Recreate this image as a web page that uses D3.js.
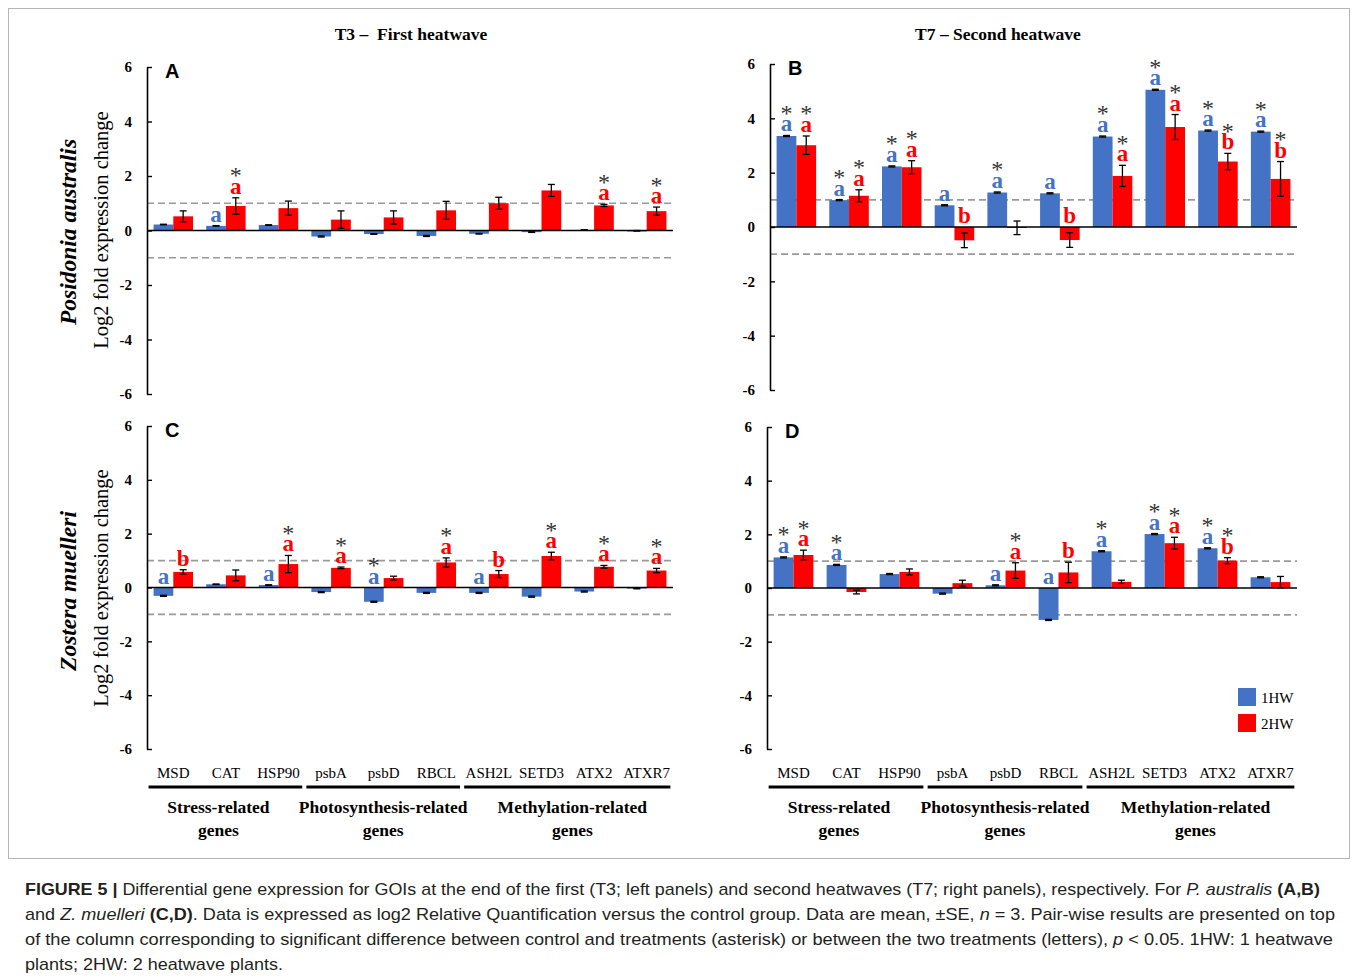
<!DOCTYPE html>
<html>
<head>
<meta charset="utf-8">
<script src="https://cdn.jsdelivr.net/npm/d3@7"></script>
<style>
  body { margin: 0; background: #fff; }
  svg { display: block; }
</style>
</head>
<body>
<svg id="chart" width="1357" height="980"></svg>
<script>
// ---------------- DATA ----------------
const categories = ["MSD", "CAT", "HSP90", "psbA", "psbD", "RBCL", "ASH2L", "SETD3", "ATX2", "ATXR7"];
const seriesNames = ["1HW", "2HW"];
const yTicks = [-6, -4, -2, 0, 2, 4, 6];
const thresholds = [1, -1];

const groupNames = [["Stress-related", "genes"], ["Photosynthesis-related", "genes"], ["Methylation-related", "genes"]];
const groupFirst = ["MSD", "psbA", "ASH2L"];
const groupLast = ["HSP90", "RBCL", "ATXR7"];

// Panel A: P. australis, T3
const A_1HW = [0.22, 0.17, 0.20, -0.22, -0.13, -0.20, -0.12, -0.06, 0.02, -0.01];
const A_1HW_se = [0.01, 0.01, 0.01, 0.02, 0.01, 0.02, 0.01, 0.01, 0.01, 0.01];
const A_2HW = [0.52, 0.90, 0.82, 0.40, 0.48, 0.74, 1.00, 1.47, 0.92, 0.71];
const A_2HW_se = [0.20, 0.30, 0.26, 0.32, 0.24, 0.33, 0.22, 0.22, 0.04, 0.15];
const A_1HW_sig = ["", "a", "", "", "", "", "", "", "", ""];
const A_2HW_sig = ["", "*a", "", "", "", "", "", "", "*a", "*a"];

// Panel B: P. australis, T7
const B_1HW = [3.35, 0.99, 2.23, 0.80, 1.27, 1.24, 3.33, 5.05, 3.55, 3.51];
const B_1HW_se = [0.02, 0.02, 0.02, 0.02, 0.02, 0.02, 0.02, 0.02, 0.02, 0.02];
const B_2HW = [3.01, 1.15, 2.20, -0.49, -0.03, -0.48, 1.88, 3.68, 2.41, 1.77];
const B_2HW_se = [0.34, 0.22, 0.24, 0.27, 0.25, 0.27, 0.39, 0.46, 0.30, 0.64];
const B_1HW_sig = ["*a", "*a", "*a", "a", "*a", "a", "*a", "*a", "*a", "*a"];
const B_2HW_sig = ["*a", "*a", "*a", "b", "", "b", "*a", "*a", "*b", "*b"];

// Panel C: Z. muelleri, T3
const C_1HW = [-0.31, 0.12, 0.09, -0.17, -0.53, -0.20, -0.20, -0.34, -0.15, -0.04];
const C_1HW_se = [0.02, 0.01, 0.01, 0.02, 0.02, 0.02, 0.02, 0.02, 0.02, 0.01];
const C_2HW = [0.58, 0.45, 0.87, 0.73, 0.35, 0.93, 0.50, 1.17, 0.77, 0.63];
const C_2HW_se = [0.08, 0.20, 0.32, 0.03, 0.07, 0.17, 0.13, 0.14, 0.05, 0.08];
const C_1HW_sig = ["a", "", "a", "", "*a", "", "a", "", "", ""];
const C_2HW_sig = ["b", "", "*a", "*a", "", "*a", "b", "*a", "*a", "*a"];

// Panel D: Z. muelleri, T7
const D_1HW = [1.14, 0.86, 0.52, -0.21, 0.10, -1.19, 1.37, 2.01, 1.48, 0.40];
const D_1HW_se = [0.02, 0.02, 0.02, 0.02, 0.02, 0.02, 0.02, 0.02, 0.02, 0.02];
const D_2HW = [1.23, -0.15, 0.60, 0.18, 0.65, 0.58, 0.23, 1.67, 1.02, 0.22];
const D_2HW_se = [0.18, 0.07, 0.11, 0.11, 0.29, 0.38, 0.06, 0.22, 0.11, 0.21];
const D_1HW_sig = ["*a", "*a", "", "", "a", "a", "*a", "*a", "*a", ""];
const D_2HW_sig = ["*a", "", "", "", "*a", "b", "", "*a", "*b", ""];

// ---------------- STYLE / LAYOUT ----------------
const BLUE = "#4472C4", RED = "#FF0000";
const SERIF = "'Liberation Serif', 'Times New Roman', serif";
const SANS = "'Liberation Sans', Arial, sans-serif";
const groupLabelShift = [-7, 0, 5];

const svg = d3.select("#chart");

svg.append("rect").attr("x", 8.5).attr("y", 8.5).attr("width", 1341).attr("height", 850)
  .attr("fill", "none").attr("stroke", "#b5b5b5").attr("stroke-width", 1);

const panels = [
  { letter: "A", x0: 147, x1: 673, yTop: 67, yBot: 394, v1: A_1HW, s1: A_1HW_se, v2: A_2HW, s2: A_2HW_se, g1: A_1HW_sig, g2: A_2HW_sig, cats: false },
  { letter: "B", x0: 770, x1: 1297, yTop: 64, yBot: 390, v1: B_1HW, s1: B_1HW_se, v2: B_2HW, s2: B_2HW_se, g1: B_1HW_sig, g2: B_2HW_sig, cats: false },
  { letter: "C", x0: 147, x1: 673, yTop: 426, yBot: 749, v1: C_1HW, s1: C_1HW_se, v2: C_2HW, s2: C_2HW_se, g1: C_1HW_sig, g2: C_2HW_sig, cats: true },
  { letter: "D", x0: 767, x1: 1297, yTop: 427, yBot: 749, v1: D_1HW, s1: D_1HW_se, v2: D_2HW, s2: D_2HW_se, g1: D_1HW_sig, g2: D_2HW_sig, cats: true }
];

panels.forEach(p => {
  const g = svg.append("g");
  const x = d3.scaleBand().domain(categories).range([p.x0, p.x1]).paddingInner(0.25).paddingOuter(0.125);
  const xs = d3.scaleBand().domain(seriesNames).range([0, x.bandwidth()]);
  const y = d3.scaleLinear().domain([-6, 6]).range([p.yBot, p.yTop]);

  // threshold dashed lines
  g.selectAll(".thr").data(thresholds).join("line")
    .attr("x1", p.x0).attr("x2", p.x1).attr("y1", d => y(d)).attr("y2", d => y(d))
    .attr("stroke", "#9a9a9a").attr("stroke-width", 1.6).attr("stroke-dasharray", "7,4");

  const series = [
    { name: "1HW", vals: p.v1, se: p.s1, sig: p.g1, color: BLUE },
    { name: "2HW", vals: p.v2, se: p.s2, sig: p.g2, color: RED }
  ];

  series.forEach(s => {
    const data = categories.map((c, i) => ({ c, v: s.vals[i], se: s.se[i], sig: s.sig[i] }));
    g.selectAll(null).data(data).join("rect")
      .attr("x", d => x(d.c) + xs(s.name))
      .attr("width", xs.bandwidth())
      .attr("y", d => y(Math.max(0, d.v)))
      .attr("height", d => Math.max(1, Math.abs(y(d.v) - y(0))))
      .attr("fill", s.color);
  });

  // zero line
  g.append("line").attr("x1", p.x0).attr("x2", p.x1).attr("y1", y(0)).attr("y2", y(0))
    .attr("stroke", "#000").attr("stroke-width", 1.6);

  series.forEach(s => {
    const data = categories.map((c, i) => ({ c, v: s.vals[i], se: s.se[i], sig: s.sig[i] }));
    const cx = d => x(d.c) + xs(s.name) + xs.bandwidth() / 2;
    const eg = g.selectAll(null).data(data).join("g");
    eg.append("line").attr("x1", cx).attr("x2", cx)
      .attr("y1", d => y(d.v + d.se)).attr("y2", d => y(d.v - d.se))
      .attr("stroke", "#000").attr("stroke-width", 1.3);
    eg.append("line").attr("x1", d => cx(d) - 3.5).attr("x2", d => cx(d) + 3.5)
      .attr("y1", d => y(d.v + d.se)).attr("y2", d => y(d.v + d.se))
      .attr("stroke", "#000").attr("stroke-width", 1.3);
    eg.append("line").attr("x1", d => cx(d) - 3.5).attr("x2", d => cx(d) + 3.5)
      .attr("y1", d => y(d.v - d.se)).attr("y2", d => y(d.v - d.se))
      .attr("stroke", "#000").attr("stroke-width", 1.3);

    // significance annotation: asterisk stacked over letter, one text element each
    const lab = data.filter(d => d.sig !== "");
    const base = d => y(Math.max(0, d.v + d.se)) - 4;
    const st = g.selectAll(null).data(lab).join("text")
      .attr("text-anchor", "middle")
      .attr("font-family", SERIF);
    st.filter(d => d.sig.includes("*")).append("tspan")
      .attr("x", cx).attr("y", d => base(d) - 10.5)
      .attr("font-size", 24).attr("fill", "#333")
      .text("*");
    st.append("tspan")
      .attr("x", cx).attr("y", base)
      .attr("font-weight", "bold").attr("font-size", 23)
      .attr("fill", s.color)
      .text(d => d.sig.replace("*", ""));
  });

  // y axis
  const axis = d3.axisLeft(y).tickValues(yTicks).tickSize(-5).tickSizeOuter(0).tickPadding(15)
    .tickFormat(d => String(d));
  const ag = g.append("g").attr("transform", `translate(${p.x0},0)`).call(axis);
  ag.select(".domain").attr("stroke", "#000").attr("stroke-width", 1.6);
  ag.selectAll(".tick line").attr("stroke", "#000").attr("stroke-width", 1.4);
  ag.selectAll(".tick text").attr("font-family", SERIF).attr("font-weight", "bold")
    .attr("font-size", 15).attr("fill", "#000");

  // panel letter
  g.append("text").attr("x", p.x0 + 18).attr("y", p.yTop + 11)
    .attr("font-family", SANS).attr("font-weight", "bold").attr("font-size", 20)
    .text(p.letter);

  if (p.cats) {
    g.selectAll(null).data(categories).join("text")
      .attr("x", d => x(d) + x.bandwidth() / 2).attr("y", 778)
      .attr("text-anchor", "middle").attr("font-family", SERIF).attr("font-size", 15)
      .text(d => d);
    const groups = groupNames.map((n, i) => ({
      n, i, a: x(groupFirst[i]) - 5, b: x(groupLast[i]) + x.bandwidth() + 4
    }));
    g.selectAll(null).data(groups).join("line")
      .attr("x1", d => d.a).attr("x2", d => d.b).attr("y1", 787).attr("y2", 787)
      .attr("stroke", "#000").attr("stroke-width", 3);
    const gt = g.selectAll(null).data(groups).join("text")
      .attr("text-anchor", "middle").attr("font-family", SERIF).attr("font-weight", "bold")
      .attr("font-size", 17.5);
    gt.append("tspan").attr("x", d => (d.a + d.b) / 2 + groupLabelShift[d.i]).attr("y", 813).text(d => d.n[0]);
    gt.append("tspan").attr("x", d => (d.a + d.b) / 2 + groupLabelShift[d.i]).attr("y", 836).text(d => d.n[1]);
  }
});

// column titles
svg.append("text").attr("x", 411).attr("y", 40).attr("text-anchor", "middle")
  .attr("font-family", SERIF).attr("font-weight", "bold").attr("font-size", 17.5)
  .attr("xml:space", "preserve").text("T3 –  First heatwave");
svg.append("text").attr("x", 998).attr("y", 40).attr("text-anchor", "middle")
  .attr("font-family", SERIF).attr("font-weight", "bold").attr("font-size", 17.5)
  .text("T7 – Second heatwave");

// row labels
const rows = [{ sp: "Posidonia australis", cy: 232, cy2: 230 }, { sp: "Zostera muelleri", cy: 591, cy2: 588 }];
rows.forEach(r => {
  svg.append("text").attr("transform", `translate(76,${r.cy}) rotate(-90)`)
    .attr("text-anchor", "middle").attr("font-family", SERIF).attr("font-weight", "bold")
    .attr("font-style", "italic").attr("font-size", 23.5).text(r.sp);
  svg.append("text").attr("transform", `translate(108,${r.cy2}) rotate(-90)`)
    .attr("text-anchor", "middle").attr("font-family", SERIF).attr("font-size", 20.5)
    .text("Log2 fold expression change");
});

// legend
const legend = svg.append("g");
seriesNames.forEach((n, i) => {
  legend.append("rect").attr("x", 1238).attr("y", 688 + i * 26).attr("width", 18).attr("height", 18)
    .attr("fill", i === 0 ? BLUE : RED);
  legend.append("text").attr("x", 1261).attr("y", 703 + i * 26)
    .attr("font-family", SERIF).attr("font-size", 15).text(n);
});

// caption
const capLines = [
  { len: 1295, parts: [["FIGURE 5 | ", "b"], ["Differential gene expression for GOIs at the end of the first (T3; left panels) and second heatwaves (T7; right panels), respectively. For ", ""], ["P. australis", "i"], [" (A,B)", "b"]] },
  { len: 1310, parts: [["and ", ""], ["Z. muelleri", "i"], [" (C,D)", "b"], [". Data is expressed as log2 Relative Quantification versus the control group. Data are mean, ±SE, ", ""], ["n", "i"], [" = 3. Pair-wise results are presented on top", ""]] },
  { len: 1308, parts: [["of the column corresponding to significant difference between control and treatments (asterisk) or between the two treatments (letters), ", ""], ["p", "i"], [" < 0.05. 1HW: 1 heatwave", ""]] },
  { len: 258, parts: [["plants; 2HW: 2 heatwave plants.", ""]] }
];
capLines.forEach((l, i) => {
  const t = svg.append("text").attr("x", 25).attr("y", 895 + i * 25)
    .attr("font-family", SANS).attr("font-size", 17).attr("fill", "#231f20")
    .attr("textLength", l.len).attr("lengthAdjust", "spacingAndGlyphs")
    .attr("xml:space", "preserve");
  l.parts.forEach(pt => {
    const ts = t.append("tspan").text(pt[0]);
    if (pt[1] === "b") ts.attr("font-weight", "bold");
    if (pt[1] === "i") ts.attr("font-style", "italic");
  });
});
</script>
</body>
</html>
